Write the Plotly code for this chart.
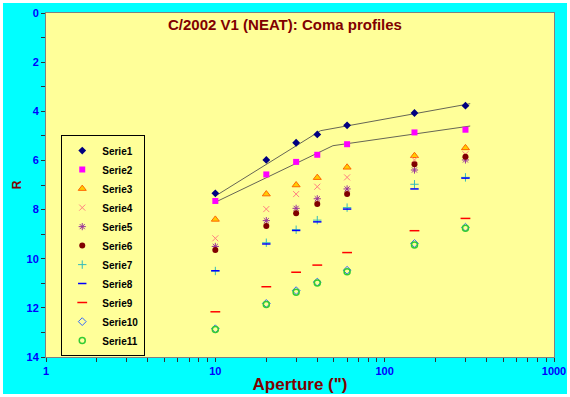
import plotly.graph_objects as go

aperture = [10, 20, 30, 40, 60, 150, 300]
serie1 = [7.34, 5.98, 5.28, 4.94, 4.57, 4.07, 3.77]
serie2 = [7.65, 6.57, 6.06, 5.77, 5.34, 4.86, 4.75]
serie3 = [8.40, 7.37, 7.00, 6.70, 6.28, 5.81, 5.49]
serie4 = [9.17, 7.98, 7.37, 7.07, 6.69, 5.98, 5.75]
serie5 = [9.50, 8.45, 7.95, 7.56, 7.16, 6.39, 5.98]
serie6 = [9.65, 8.67, 8.15, 7.77, 7.37, 6.16, 5.85]
serie7 = [10.50, 9.35, 8.82, 8.43, 7.92, 6.97, 6.69]
serie8 = [10.49, 9.40, 8.85, 8.50, 7.98, 7.16, 6.72]
serie9 = [12.16, 11.14, 10.55, 10.26, 9.75, 8.86, 8.36]
serie10 = [12.85, 11.82, 11.30, 10.95, 10.47, 9.38, 8.72]
serie11 = [12.88, 11.86, 11.36, 10.99, 10.53, 9.44, 8.76]

fit1_x = [10, 41.8, 320]
fit1_y = [7.45, 4.79, 3.69]
fit2_x = [10, 49.5, 320]
fit2_y = [7.70, 5.40, 4.60]

x_tickvals = [m * 10 ** d for d in range(3) for m in range(1, 10)] + [1000]
x_ticktext = [str(v) if v in (1, 10, 100, 1000) else "" for v in x_tickvals]
y_tickvals = list(range(0, 15))
y_ticktext = [str(v) if v % 2 == 0 else "" for v in y_tickvals]

series = [
    ("Serie1", serie1, dict(symbol="diamond", color="#000080", size=6)),
    ("Serie2", serie2, dict(symbol="square", color="#FF00FF", size=6)),
    ("Serie3", serie3, dict(symbol="triangle-up", color="#FFCC00", size=7, line=dict(color="#FF6600", width=1))),
    ("Serie4", serie4, dict(symbol="x-thin", color="#FF8080", size=6, line=dict(color="#FF8080", width=1))),
    ("Serie5", serie5, dict(symbol="asterisk", color="#993399", size=6, line=dict(color="#993399", width=1))),
    ("Serie6", serie6, dict(symbol="circle", color="#800000", size=6)),
    ("Serie7", serie7, dict(symbol="cross-thin", color="#33BBBB", size=6, line=dict(color="#33BBBB", width=1))),
    ("Serie8", serie8, dict(symbol="line-ew", color="#0000FF", size=6, line=dict(color="#0000FF", width=1.5))),
    ("Serie9", serie9, dict(symbol="line-ew", color="#FF0000", size=7, line=dict(color="#FF0000", width=1.5))),
    ("Serie10", serie10, dict(symbol="diamond-open", color="#3366FF", size=6, line=dict(color="#3366FF", width=1))),
    ("Serie11", serie11, dict(symbol="circle-open", color="#33CC33", size=6, line=dict(color="#33CC33", width=1.5))),
]

fig = go.Figure()
for fx, fy in [(fit1_x, fit1_y), (fit2_x, fit2_y)]:
    fig.add_trace(go.Scatter(x=fx, y=fy, mode="lines", line=dict(color="#666655", width=1),
                             showlegend=False, hoverinfo="skip"))
for name, vals, mk in series:
    fig.add_trace(go.Scatter(x=aperture, y=vals, mode="markers", name=name, marker=mk))

tickfont = dict(family="Arial", size=11, color="#0000FF", weight="bold")
fig.update_layout(
    width=564, height=391,
    margin=dict(l=43, r=13, t=10, b=37, autoexpand=False),
    paper_bgcolor="#00FFFF",
    plot_bgcolor="#FFFF99",
    title=dict(text="C/2002 V1 (NEAT): Coma profiles", x=0.5, xanchor="center", y=0.944, yanchor="middle",
               font=dict(family="Arial", size=15, color="#800000", weight="bold")),
    legend=dict(x=0.03, y=0.645, xanchor="left", yanchor="top", bgcolor="#FFFF99",
                bordercolor="#000000", borderwidth=1,
                font=dict(family="Arial", size=10, color="#000000", weight="bold"),
                itemwidth=30, tracegroupgap=0),
    xaxis=dict(type="log", range=[0, 3], showgrid=False, zeroline=False, automargin=False,
               tickmode="array", tickvals=x_tickvals, ticktext=x_ticktext,
               ticks="outside", ticklen=4, tickcolor="#333333",
               showline=True, linecolor="#808080", mirror=True,
               tickfont=tickfont,
               title=dict(text="Aperture (\")", font=dict(family="Arial", size=17, color="#800000", weight="bold"),
                          standoff=2)),
    yaxis=dict(range=[14, 0], showgrid=False, zeroline=False, automargin=False,
               tickmode="array", tickvals=y_tickvals, ticktext=y_ticktext,
               ticks="outside", ticklen=4, tickcolor="#333333",
               showline=True, linecolor="#808080", mirror=True,
               tickfont=tickfont,
               title=dict(text="R", font=dict(family="Arial", size=12, color="#800000", weight="bold"),
                          standoff=2)),
)

fig.write_html("out.html", post_script="document.body.style.margin='3px';document.body.style.overflow='hidden';")
